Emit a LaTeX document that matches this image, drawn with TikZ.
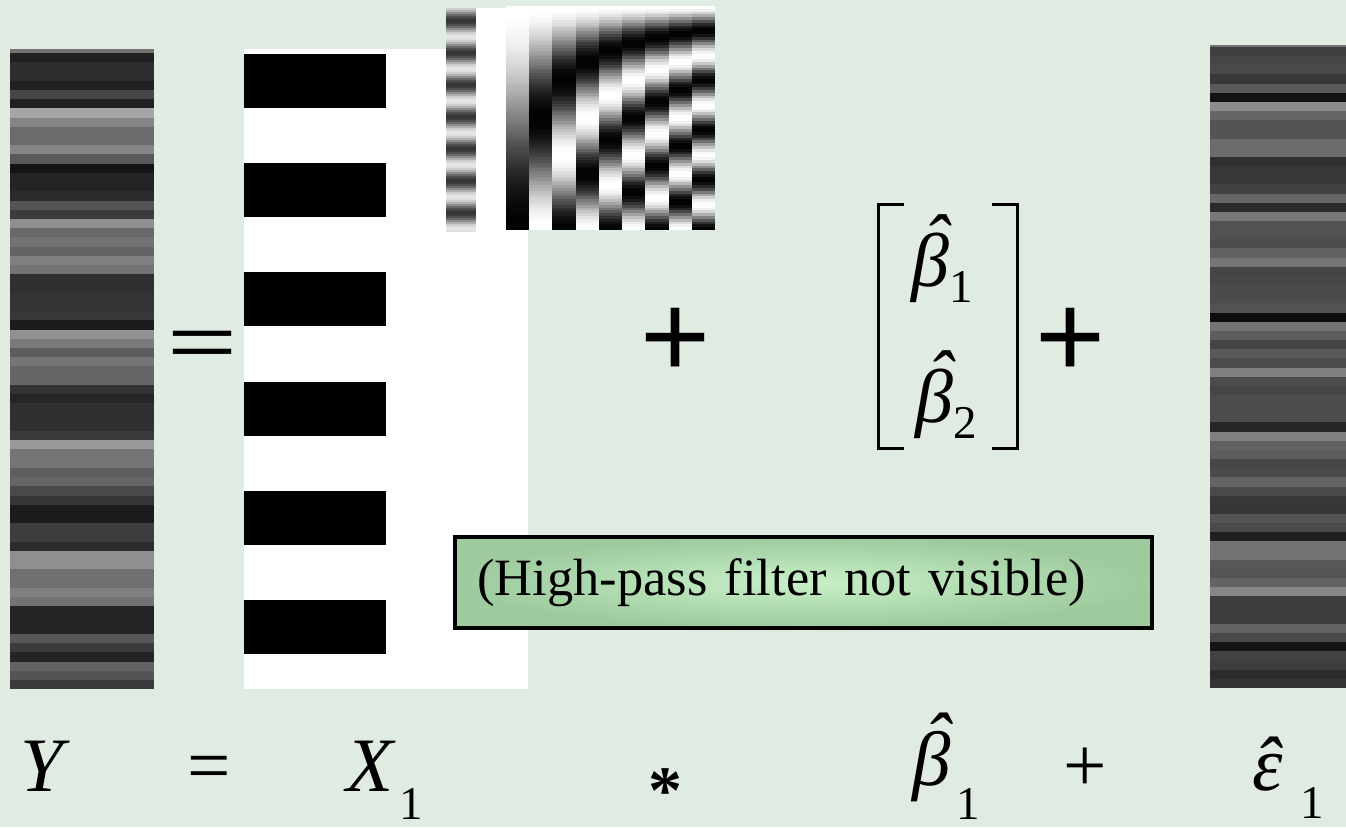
\documentclass[tikz,border=0pt]{standalone}
\usepackage{fontspec}
\setmainfont{Liberation Serif}
\setsansfont{Liberation Sans}
\usetikzlibrary{positioning}
\definecolor{slidebg}{RGB}{224,235,225}
\definecolor{boxlight}{RGB}{200,240,200}
\definecolor{boxdark}{RGB}{158,202,158}
\newcommand{\lowone}[2][1]{\raisebox{#2}{\fontsize{23.5}{24}\selectfont #1}}
\newcommand{\hatit}[1]{{\itshape\accent"02C6 #1}}

\begin{document}
\begin{tikzpicture}[x=0.5pt,y=-0.5pt,
  lbl/.style={font=\fontsize{38.5}{40}\selectfont,inner sep=0pt,anchor=base west},
  bigop/.style={font=\sffamily\fontsize{60}{60}\selectfont,inner sep=0pt},
  bracket/.style={line width=1.6pt}]
\useasboundingbox (0,0) rectangle (1346,827);
\fill[slidebg] (0,0) rectangle (1346,827);

% Y column
\fill[black!55] (10,49) rectangle (154,53);
\foreach \g [count=\i from 0] in {87,82,82,87,72,87,35,48,58,58,48,65,92,86,86,83,67,77,44,59,55,61,50,55,81,81,80,80,78,89,43,52,64,54,60,60,80,85,81,81,81,77,40,54,54,63,60,71,79,89,89,76,76,83,44,44,56,56,50,55,86,86,86,66,77,86,61,67,77}
  \fill[black!\g] (10,{53+9.22*\i}) rectangle (154,{53.3+9.22*(\i+1)});

% residual column
\fill[black!55] (1210,45) rectangle (1346,47);
\foreach \g [count=\i from 0] in {75,73,71,78,65,93,45,60,67,67,58,58,81,78,78,74,60,83,53,68,68,70,62,54,73,72,71,70,68,95,55,63,73,65,70,50,70,73,70,70,70,85,50,62,64,72,71,61,71,78,79,67,71,88,55,55,66,67,61,47,76,76,76,61,71,92,74,76,83,80}
  \fill[black!\g] (1210,{47+9.157*\i}) rectangle (1346,{47.3+9.157*(\i+1)});

% design matrix X1
\fill[white] (244,49) rectangle (528,689);
\foreach \y in {54,163,272,382,491,600}
  \fill[black] (244,\y) rectangle (386,{\y+54});

% convolved regressor and filter set
\fill[white] (476,8) rectangle (506,231);
\foreach \i in {0,...,111} {
  \pgfmathtruncatemacro\k{45-35*cos(11.25*(9+2*\i-37))}
  \fill[black!\k] (446,{8+2*\i}) rectangle (476,{10.4+2*\i});
}
\foreach \c in {1,...,9} {
  \foreach \j in {0,...,79} {
    \pgfmathtruncatemacro\k{50-50*cos(2.25*\c*(\j+0.5))}
    \fill[black!\k] ({506+23.22*(\c-1)},{6+2.8*\j}) rectangle ({506.3+23.22*\c},{9.1+2.8*\j});
  }
}

\node[bigop] (eqtop) at (203,349) {\scalebox{1}[0.6]{=}};
\node[bigop] (plustop) at (676,343) {+};
\node[bigop] (plusmid) at (1071,343) {+};

\node[minimum width=69pt,minimum height=121.5pt,inner sep=0pt,align=center,
  font=\fontsize{38}{68}\selectfont] (betavec) at (948,326.5)
  {\hspace{-6pt}\hatit{β}\lowone{-8pt}\\\hspace{-2pt}\hatit{β}\lowone[2]{-8pt}};
\draw[bracket] ([xshift=12.5pt]betavec.north west) -- (betavec.north west)
  -- (betavec.south west) -- ([xshift=12.5pt]betavec.south west);
\draw[bracket] ([xshift=-12.5pt]betavec.north east) -- (betavec.north east)
  -- (betavec.south east) -- ([xshift=-12.5pt]betavec.south east);

\node[draw=black,line width=2pt,inner color=boxlight,outer color=boxdark,
  minimum width=348.5pt,minimum height=45.5pt,text width=326pt,inner xsep=11pt,align=left,
  font=\fontsize{26.2}{30}\selectfont] (hpf) at (803.5,582.5) {(High-pass filter not visible)};

\node[lbl] (ylab) at (20,791) {\textit{Y}};
\node[lbl] (eqlab) at (187,791) {=};
\node[lbl] (xlab) at (346,791) {\textit{X}\hspace{2pt}\lowone{-14pt}};
\node[lbl,font=\fontsize{34}{36}\selectfont] (astlab) at (648,813) {\textbf{*}};
\node[lbl] (betalab) at (912,785) {\hatit{β}\hspace{3pt}\lowone{-17pt}};
\node[lbl] (pluslab) at (1063,791) {+};
\node[lbl] (epslab) at (1252,790) {\hatit{ε}\hspace{9pt}\lowone{-14pt}};
\end{tikzpicture}
\end{document}
